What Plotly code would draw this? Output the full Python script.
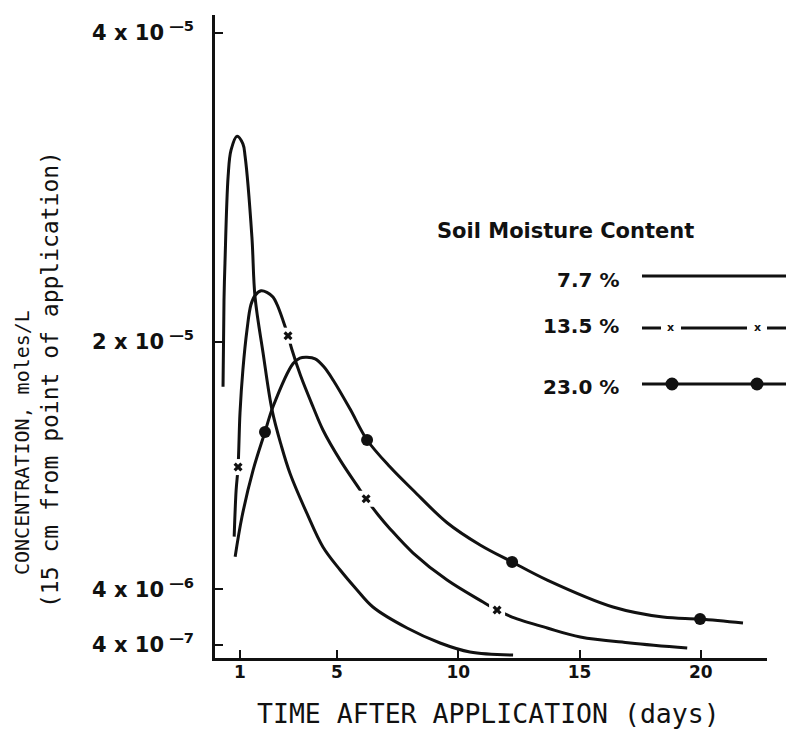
import plotly.graph_objects as go

SCALE = 1e-5  # values below are in units of 10^-5 moles/L

# Soil moisture 7.7 % (solid line)
d77 = [0.30, 0.34, 0.38, 0.51, 0.63, 0.88, 1.12, 1.21, 1.49, 1.62, 1.95, 2.32, 2.70, 3.06, 3.76, 4.42, 5.13, 5.80, 6.48, 7.89, 9.25, 10.48, 12.26]
v77 = [1.71, 2.27, 2.51, 3.07, 3.24, 3.33, 3.28, 3.20, 2.68, 2.29, 1.93, 1.56, 1.33, 1.15, 0.89, 0.673, 0.524, 0.40, 0.285, 0.149, 0.052, -0.006, -0.026]

# Soil moisture 13.5 % (line with x markers)
d135 = [0.76, 0.84, 0.92, 1.00, 1.12, 1.29, 1.45, 1.62, 1.87, 2.11, 2.36, 2.53, 2.77, 2.98, 3.14, 3.50, 4.01, 4.42, 5.13, 5.83, 6.20, 6.70, 7.19, 8.14, 9.54, 11.02, 11.60, 12.22, 13.67, 15.03, 17.09, 19.44]
v135 = [0.74, 1.04, 1.19, 1.54, 1.82, 2.08, 2.24, 2.30, 2.33, 2.32, 2.29, 2.24, 2.14, 2.04, 1.95, 1.78, 1.58, 1.43, 1.235, 1.07, 0.985, 0.88, 0.79, 0.634, 0.459, 0.317, 0.265, 0.22, 0.149, 0.091, 0.052, 0.019]
m135_d = [0.92, 2.98, 6.20, 11.60]
m135_v = [1.19, 2.04, 0.985, 0.265]

# Soil moisture 23.0 % (line with filled circles)
d230 = [0.80, 1.08, 1.54, 2.03, 2.36, 3.19, 3.47, 3.76, 4.10, 4.45, 4.85, 5.54, 6.24, 7.19, 8.14, 9.54, 10.90, 12.22, 13.67, 16.38, 18.44, 19.97, 21.74]
v230 = [0.61, 0.867, 1.17, 1.417, 1.58, 1.86, 1.895, 1.90, 1.89, 1.84, 1.75, 1.565, 1.365, 1.19, 1.04, 0.83, 0.686, 0.576, 0.459, 0.285, 0.22, 0.207, 0.181]
m230_d = [2.03, 6.24, 12.22, 19.97]
m230_v = [1.417, 1.365, 0.576, 0.207]

x_ticks = [1, 5, 10, 15, 20]
y_ticks = [4e-5, 2e-5, 4e-6, 4e-7]
y_mant = ["4", "2", "4", "4"]
y_exp = ["5", "5", "6", "7"]

series_labels = ["7.7 %", "13.5 %", "23.0 %"]

def sc(vals):
    return [v * SCALE for v in vals]

y_ticktext = [m + "&nbsp;x&nbsp;10<sup>&nbsp;—" + e + "</sup>" for m, e in zip(y_mant, y_exp)]

BLACK = "#111111"
LW = 3
fig = go.Figure()

fig.add_trace(go.Scatter(x=d135, y=sc(v135), mode="lines",
                         line=dict(color=BLACK, width=LW, shape="spline", smoothing=1.0),
                         showlegend=False, hoverinfo="skip"))
fig.add_trace(go.Scatter(x=m135_d, y=sc(m135_v), mode="markers",
                         marker=dict(symbol="square", size=16, color="white", line=dict(width=0)),
                         showlegend=False, hoverinfo="skip"))
fig.add_trace(go.Scatter(x=m135_d, y=sc(m135_v), mode="markers",
                         marker=dict(symbol="x", size=8, color=BLACK, line=dict(width=0)),
                         showlegend=False, hoverinfo="skip"))
fig.add_trace(go.Scatter(x=d77, y=sc(v77), mode="lines",
                         line=dict(color=BLACK, width=LW, shape="spline", smoothing=1.0),
                         showlegend=False, hoverinfo="skip"))
fig.add_trace(go.Scatter(x=d230, y=sc(v230), mode="lines",
                         line=dict(color=BLACK, width=LW, shape="spline", smoothing=1.0),
                         showlegend=False, hoverinfo="skip"))
fig.add_trace(go.Scatter(x=m230_d, y=sc(m230_v), mode="markers",
                         marker=dict(symbol="circle", size=12, color=BLACK),
                         showlegend=False, hoverinfo="skip"))

L, R, T, B = 215, 19, 15, 80
W, H = 786, 738
PW, PH = W - L - R, H - T - B

def px(xp):
    return (xp - L) / PW

def py(yp):
    return (H - B - yp) / PH

fig.update_layout(
    width=W, height=H,
    margin=dict(l=L, r=R, t=T, b=B, pad=0),
    paper_bgcolor="white", plot_bgcolor="white",
    showlegend=False,
    xaxis=dict(range=[-0.031, 22.73], tickvals=x_ticks, ticktext=[str(t) for t in x_ticks],
               showgrid=False, zeroline=False, showline=True, linecolor=BLACK, linewidth=2.5,
               ticks="inside", ticklen=8, tickwidth=2, tickcolor=BLACK, ticklabelstandoff=-3,
               tickfont=dict(family="DejaVu Sans", size=17, color=BLACK, weight="bold")),
    yaxis=dict(range=[-0.045e-5, 4.114e-5], tickvals=y_ticks, ticktext=y_ticktext,
               showgrid=False, zeroline=False, showline=True, linecolor=BLACK, linewidth=2.5,
               ticks="inside", ticklen=8, tickwidth=2, tickcolor=BLACK, ticklabelstandoff=14,
               tickfont=dict(family="DejaVu Sans", size=21, color=BLACK, weight="bold")),
)

annotations = [
    dict(text="TIME AFTER APPLICATION (days)", x=px(488), y=py(714), xref="paper", yref="paper",
         xanchor="center", yanchor="middle", showarrow=False,
         font=dict(family="DejaVu Sans Mono", size=26.5, color=BLACK)),
    dict(text="CONCENTRATION, moles/L", x=px(22), y=py(443), xref="paper", yref="paper",
         xanchor="center", yanchor="middle", showarrow=False, textangle=-90,
         font=dict(family="DejaVu Sans Mono", size=20, color=BLACK)),
    dict(text="(15 cm from point of application)", x=px(50), y=py(380), xref="paper", yref="paper",
         xanchor="center", yanchor="middle", showarrow=False, textangle=-90,
         font=dict(family="DejaVu Sans Mono", size=23, color=BLACK)),
    dict(text="Soil Moisture Content", x=px(435), y=py(231), xref="paper", yref="paper",
         xanchor="left", yanchor="middle", showarrow=False,
         font=dict(family="DejaVu Sans", size=21, color=BLACK, weight="bold")),
]
leg_y_text = [280, 326, 387]
for lab, yy in zip(series_labels, leg_y_text):
    annotations.append(dict(text=lab, x=px(621), y=py(yy), xref="paper", yref="paper",
                            xanchor="right", yanchor="middle", showarrow=False,
                            font=dict(family="DejaVu Sans", size=20, color=BLACK, weight="bold")))
for xx in [670, 757]:
    annotations.append(dict(text="x", x=px(xx), y=py(327), xref="paper", yref="paper",
                            xanchor="center", yanchor="middle", showarrow=False,
                            font=dict(family="DejaVu Sans", size=11, color=BLACK, weight="bold")))
fig.update_layout(annotations=annotations)

shapes = []
def hline(x0, x1, y):
    shapes.append(dict(type="line", xref="paper", yref="paper", x0=px(x0), x1=px(x1), y0=py(y), y1=py(y),
                       line=dict(color=BLACK, width=3)))
hline(642, 786, 276)
hline(642, 661, 328)
hline(681, 747, 328)
hline(767, 786, 328)
hline(642, 786, 384)
for xx in [672, 757]:
    shapes.append(dict(type="circle", xref="paper", yref="paper", xsizemode="pixel", ysizemode="pixel",
                       xanchor=px(xx), yanchor=py(384), x0=-6.5, x1=6.5, y0=-6.5, y1=6.5,
                       fillcolor=BLACK, line=dict(color=BLACK, width=0)))
fig.update_layout(shapes=shapes)

fig.write_html("out.html", config={"displayModeBar": False},
               post_script="document.body.style.margin='0';")
